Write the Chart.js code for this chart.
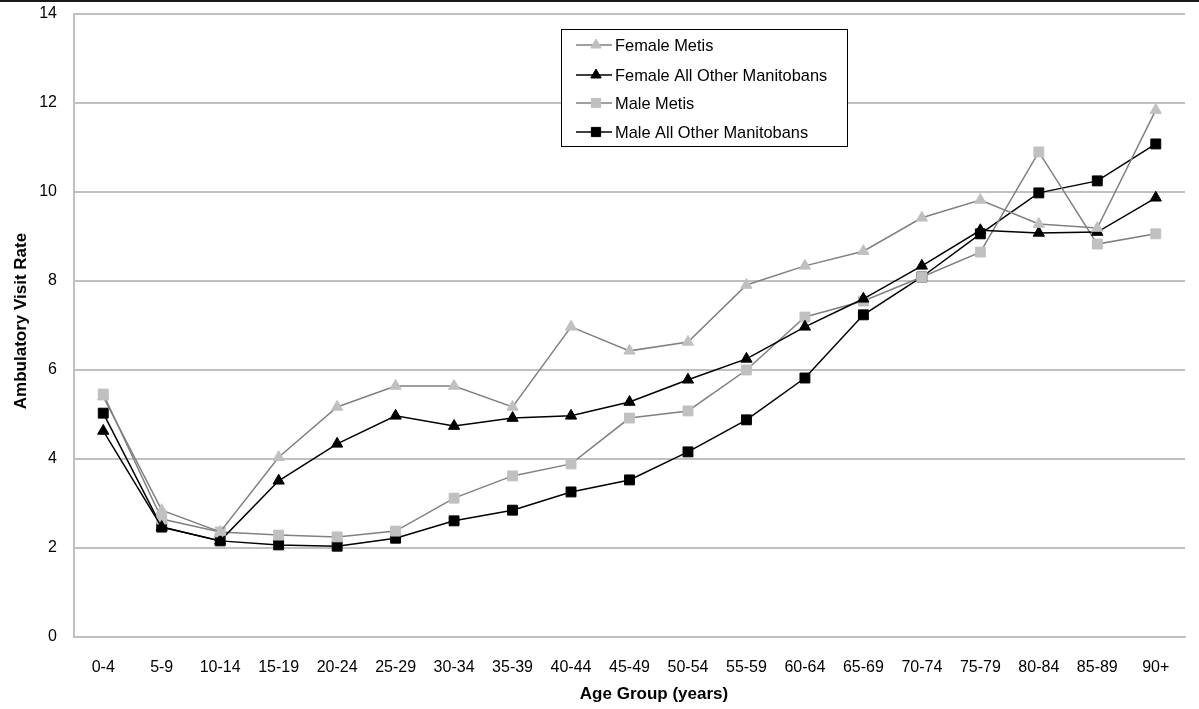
<!DOCTYPE html>
<html>
<head>
<meta charset="utf-8">
<script src="https://cdn.jsdelivr.net/npm/chart.js@4.4.1/dist/chart.umd.min.js"></script>
<style>
  html, body { margin: 0; padding: 0; background: #fff; }
  #wrap { position: relative; width: 1199px; height: 709px; }
</style>
</head>
<body>
<div id="wrap"><canvas id="c" width="1199" height="709"></canvas></div>
<script>
const categories = ['0-4','5-9','10-14','15-19','20-24','25-29','30-34','35-39','40-44','45-49','50-54','55-59','60-64','65-69','70-74','75-79','80-84','85-89','90+'];
const femaleMetis = [5.40, 2.85, 2.36, 4.04, 5.17, 5.64, 5.64, 5.17, 6.97, 6.43, 6.63, 7.91, 8.34, 8.67, 9.42, 9.82, 9.28, 9.19, 11.84];
const femaleOther = [4.63, 2.47, 2.16, 3.51, 4.34, 4.97, 4.74, 4.92, 4.97, 5.28, 5.78, 6.25, 6.97, 7.60, 8.34, 9.14, 9.08, 9.10, 9.87];
const maleMetis   = [5.46, 2.65, 2.36, 2.29, 2.25, 2.38, 3.12, 3.62, 3.89, 4.92, 5.08, 6.00, 7.19, 7.55, 8.09, 8.65, 10.90, 8.83, 9.06];
const maleOther   = [5.03, 2.47, 2.16, 2.07, 2.04, 2.22, 2.61, 2.85, 3.26, 3.53, 4.16, 4.88, 5.82, 7.24, 8.09, 9.06, 9.98, 10.25, 11.08];
const seriesNames = ['Female Metis', 'Female All Other Manitobans', 'Male Metis', 'Male All Other Manitobans'];
const yTicks = [0, 2, 4, 6, 8, 10, 12, 14];
const xTitle = 'Age Group (years)';
const yTitle = 'Ambulatory Visit Rate';

const FONT = '"Liberation Sans", Arial, sans-serif';
const GRID = '#c0c0c0';

function ds(label, data, lineColor, markColor, style, radius) {
  return {
    label, data,
    borderColor: lineColor, borderWidth: 1.5,
    pointStyle: style, pointRadius: radius, pointHoverRadius: radius,
    pointBackgroundColor: markColor, pointBorderColor: markColor, pointBorderWidth: 1,
    tension: 0, fill: false
  };
}

const decorPlugin = {
  id: 'decor',
  afterDraw(chart) {
    const ctx = chart.ctx;
    const area = chart.chartArea;
    ctx.save();
    // top black rule
    ctx.fillStyle = '#1a1a1a';
    ctx.fillRect(0, 0, 1199, 2);
    // axis titles
    ctx.fillStyle = '#000';
    ctx.font = 'bold 17px ' + FONT;
    ctx.textAlign = 'center';
    ctx.textBaseline = 'middle';
    ctx.fillText(xTitle, 654, 694);
    ctx.save();
    ctx.translate(21, 321);
    ctx.rotate(-Math.PI / 2);
    ctx.fillText(yTitle, 0, 0);
    ctx.restore();
    // legend box
    const bx = 561.5, by = 29.5, bw = 286, bh = 117;
    ctx.fillStyle = '#fff';
    ctx.fillRect(bx, by, bw, bh);
    ctx.strokeStyle = '#000';
    ctx.lineWidth = 1;
    ctx.strokeRect(bx, by, bw, bh);
    const rows = [45, 75, 103, 132];
    chart.data.datasets.forEach((d, i) => {
      const y = rows[i];
      ctx.strokeStyle = d.borderColor;
      ctx.lineWidth = 1.5;
      ctx.beginPath();
      ctx.moveTo(576, y);
      ctx.lineTo(612, y);
      ctx.stroke();
      ctx.fillStyle = d.pointBackgroundColor;
      ctx.strokeStyle = d.pointBorderColor;
      ctx.lineWidth = 1;
      Chart.helpers.drawPoint(ctx, { pointStyle: d.pointStyle, rotation: 0, radius: d.pointRadius - 0.5, borderWidth: 1 }, 596, y);
      ctx.fillStyle = '#000';
      ctx.font = '16.4px ' + FONT;
      ctx.textBaseline = 'middle';
      ctx.textAlign = 'left';
      ctx.fillText(d.label, 615, y + 1);
    });
    ctx.restore();
  }
};

new Chart(document.getElementById('c'), {
  type: 'line',
  data: {
    labels: categories,
    datasets: [
      ds(seriesNames[0], femaleMetis, '#808080', '#c0c0c0', 'triangle', 6.5),
      ds(seriesNames[1], femaleOther, '#000000', '#000000', 'triangle', 6.5),
      ds(seriesNames[2], maleMetis, '#808080', '#c0c0c0', 'rect', 7),
      ds(seriesNames[3], maleOther, '#000000', '#000000', 'rect', 7)
    ]
  },
  options: {
    responsive: false,
    animation: false,
    layout: { padding: { top: 14, right: 14, left: 0, bottom: 0 } },
    plugins: { legend: { display: false }, tooltip: { enabled: false } },
    scales: {
      x: {
        offset: true,
        grid: { display: false, drawTicks: false },
        border: { display: true, color: GRID, width: 2 },
        ticks: { color: '#000', font: { family: FONT, size: 16 }, padding: 21, maxRotation: 0, autoSkip: false },
        afterFit(s) { s.height = 72; }
      },
      y: {
        min: 0, max: 14,
        afterBuildTicks(s) { s.ticks = yTicks.map(v => ({ value: v })); },
        grid: { color: GRID, lineWidth: 2, drawTicks: true, tickLength: 17, tickColor: 'rgba(0,0,0,0)' },
        border: { display: true, color: GRID, width: 2 },
        ticks: { color: '#000', font: { family: FONT, size: 16 }, padding: 0 },
        afterFit(s) { s.width = 74; }
      }
    }
  },
  plugins: [decorPlugin]
});
</script>
</body>
</html>
